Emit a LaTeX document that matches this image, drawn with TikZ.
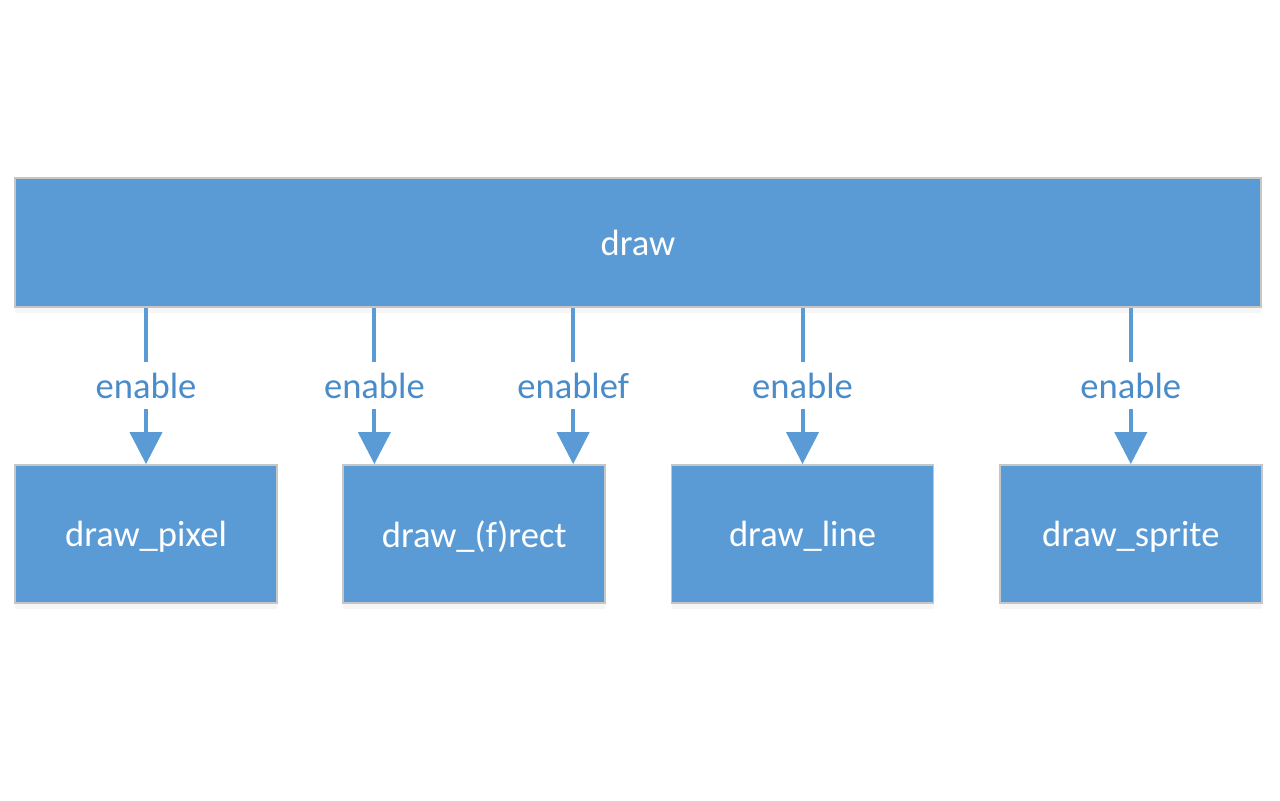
\documentclass[tikz,border=0pt]{standalone}
\usepackage{fontspec}
\setmainfont{Carlito}
\usetikzlibrary{arrows.meta,positioning,shadows}
\definecolor{boxblue}{HTML}{5B9BD5}
\definecolor{lblblue}{HTML}{4A8BC9}

\begin{document}
\begin{tikzpicture}[
    box/.style={draw=gray!45, line width=0.5pt, fill=boxblue, text=white, align=center,
        text depth=0pt, font=\fontsize{10.4}{12.5}\selectfont,
        drop shadow={opacity=0.07, shadow xshift=0cm, shadow yshift=-0.06cm}},
    func/.style={box, minimum width=2.62cm, minimum height=1.38cm},
    flow/.style={draw=boxblue, line width=0.04cm, -{Triangle[width=3.2mm,length=3.2mm]}},
    lbl/.style={fill=white, text=lblblue, inner sep=0pt, minimum height=0.47cm,
        font=\fontsize{10.4}{12.5}\selectfont},
    node distance=0.645cm
]
\useasboundingbox (0,0) rectangle (12.8,8);
\node[box, minimum width=12.46cm, minimum height=1.29cm] (top) at (6.38,5.575) {draw};
\node[func] (pixel) at (1.46,2.66) {draw\_pixel};
\node[func, right=of pixel] (rect) {draw\_(f)rect};
\node[func, right=of rect] (line) {draw\_line};
\node[func, right=of line] (sprite) {draw\_sprite};
\coordinate (recta) at ([xshift=0.32cm]rect.north west);
\coordinate (rectb) at ([xshift=-0.33cm]rect.north east);
\draw[flow] (top.south -| pixel) -- node[lbl] {enable} (pixel.north);
\draw[flow] (top.south -| recta) -- node[lbl] {enable} (recta);
\draw[flow] (top.south -| rectb) -- node[lbl] {enablef} (rectb);
\draw[flow] (top.south -| line) -- node[lbl] {enable} (line.north);
\draw[flow] (top.south -| sprite) -- node[lbl] {enable} (sprite.north);
\end{tikzpicture}
\end{document}
